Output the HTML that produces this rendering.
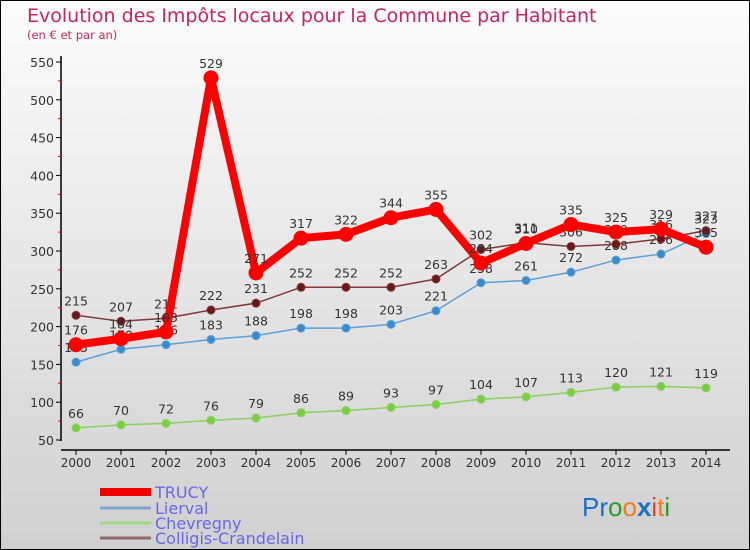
<!DOCTYPE html>
<html><head><meta charset="utf-8"><style>
body{margin:0;}
#c{position:relative;width:750px;height:550px;box-sizing:border-box;border:1px solid #000;background:linear-gradient(#fcfcfc,#d0d0d0);font-family:"DejaVu Sans","Liberation Sans",sans-serif;overflow:hidden}
</style></head><body>
<div id="c">
<svg id="s" width="750" height="550" style="position:absolute;left:-1px;top:-1px">
<text x="27" y="22" font-size="19" fill="#c8245a">Evolution des Impôts locaux pour la Commune par Habitant</text>
<text x="27" y="39" font-size="11.5" fill="#c8245a">(en € et par an)</text>
<g id="axes"></g><g id="marks"></g>
<g font-size="16" fill="#6666ee">
<line x1="100" y1="492" x2="151" y2="492" stroke="#e00" stroke-width="8"/>
<text x="155" y="498">TRUCY</text>
<line x1="100" y1="508" x2="151" y2="508" stroke="#7ea8c8" stroke-width="3"/>
<text x="155" y="514">Lierval</text>
<line x1="100" y1="523" x2="151" y2="523" stroke="#a0d888" stroke-width="3"/>
<text x="155" y="529">Chevregny</text>
<line x1="100" y1="538" x2="151" y2="538" stroke="#906868" stroke-width="3"/>
<text x="155" y="544">Colligis-Crandelain</text>
</g>
<text x="582" y="516" font-size="26" font-family="Liberation Sans,sans-serif"><tspan fill="#1a70c8">Pr</tspan><tspan fill="#2a9a2a">o</tspan><tspan fill="#f08010">o</tspan><tspan fill="#1a70c8" font-weight="bold">x</tspan><tspan fill="#e84010">i</tspan><tspan fill="#f08010">t</tspan><tspan fill="#2a9a2a">i</tspan></text>
</svg>
</div>
<script>
const years=[2000,2001,2002,2003,2004,2005,2006,2007,2008,2009,2010,2011,2012,2013,2014];
const trucy=[176,184,193,529,271,317,322,344,355,284,310,335,325,329,305];
const lierval=[153,170,176,183,188,198,198,203,221,258,261,272,288,296,323];
const chevregny=[66,70,72,76,79,86,89,93,97,104,107,113,120,121,119];
const colligis=[215,207,211,222,231,252,252,252,263,302,311,306,309,316,327];
const yTicks=[50,100,150,200,250,300,350,400,450,500,550];
const NS="http://www.w3.org/2000/svg";
const X=i=>76+i*45, Y=v=>440-(v-50)*0.756;
function mk(t,a,p){const e=document.createElementNS(NS,t);for(const k in a)e.setAttribute(k,a[k]);p.appendChild(e);return e;}
const ax=document.getElementById('axes'), mg=document.getElementById('marks');
let l=mk('line',{x1:61,y1:56,x2:61,y2:441,stroke:'#000','stroke-width':1.5},ax);


l=mk('line',{x1:61,y1:450,x2:730,y2:450,stroke:'#000','stroke-width':1.5},ax);


yTicks.forEach((v,i)=>{
 mk('line',{x1:56,y1:Y(v),x2:61,y2:Y(v),stroke:'#000'},ax);
 if(i<yTicks.length-1)mk('line',{x1:58,y1:Y(v+25),x2:61,y2:Y(v+25),stroke:'#e00'},ax);
 const t=mk('text',{x:54,y:Y(v)+5,'text-anchor':'end','font-size':12.5,fill:'#333'},ax);
 t.textContent=v;
 
 
});
years.forEach((y,i)=>{
 mk('line',{x1:X(i),y1:450,x2:X(i),y2:455,stroke:'#000'},ax);
 const t=mk('text',{x:X(i),y:467,'text-anchor':'middle','font-size':12,fill:'#333'},ax);
 t.textContent=y;
 
 
});
function series(vals,name,color,lw,r,mc){
 const g=mk('g',{},mg);
 
 
 const p=mk('polyline',{points:vals.map((v,i)=>X(i)+','+Y(v)).join(' '),fill:'none',stroke:color,'stroke-width':lw,'stroke-linejoin':'round'},g);
 
 
 vals.forEach((v,i)=>{
  const c=mk('circle',{cx:X(i),cy:Y(v),r:r,fill:mc,stroke:color,'stroke-width':1},g);
  
  
  const t=mk('text',{x:X(i),y:Y(v)-10,'text-anchor':'middle','font-size':12.5,fill:'#333'},g);
  t.textContent=v;
  
  
 });
}
series(chevregny,'chevregny','#88d060',1.5,4,'#78d040');
series(lierval,'lierval','#5aa0d8',1.5,4,'#3a8ad0');
series(colligis,'colligis','#803838',1.5,4,'#6a1818');
series(trucy,'trucy','#f00',8,7,'#f00');
</script>
</body></html>
